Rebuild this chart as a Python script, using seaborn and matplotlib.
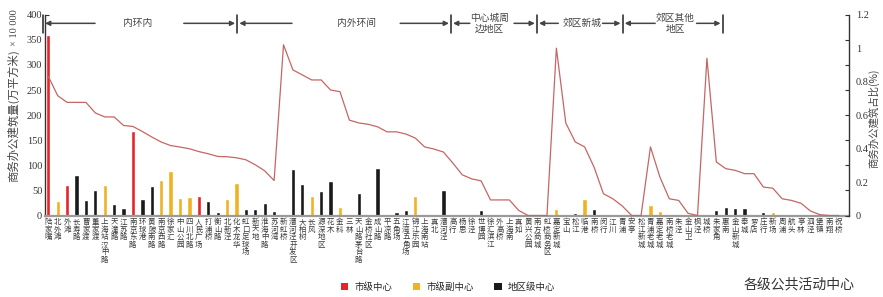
import numpy as np
import pandas as pd
import matplotlib
matplotlib.use('Agg')
import matplotlib.pyplot as plt
import seaborn as sns
from matplotlib.patches import Patch

# ---------------- data ----------------
centers = [
    "陆家嘴", "北外滩", "外滩", "长寿路", "曹家渡", "董家渡", "上海站汉中路", "天潼路", "江苏路", "南京东路",
    "环球港", "黄陂南路", "南京西路", "徐家汇", "中山公园", "四川北路", "人民广场", "打浦桥", "衡山路", "北新泾",
    "化木龙华", "虹口足球场", "新天地", "淮海中路", "苏河湾", "新虹桥", "漕河泾开发区", "大柏树", "长风", "源深地区",
    "花木", "金科", "三林", "天山路茅台路", "金桥社区", "成山路", "平凉路", "五角场", "江湾五角场", "锦江乐园",
    "上海南站", "真北", "漕河泾", "高行", "杨思", "徐泾", "世博园", "徐汇滨江", "外高桥", "上海南",
    "真如", "黄兴公园", "南方商城", "虹桥商务区", "嘉定新城", "宝山", "松江", "临港", "南桥", "闵行",
    "江川", "青浦", "安亭", "松江新城", "青浦老城", "嘉定老城", "南桥老城", "朱泾", "金山卫", "枫泾",
    "城桥", "朱家角", "惠南", "金山新城", "奉城", "罗店", "庄行", "新场", "周浦", "航头",
    "亭林", "泗泾", "堡镇", "南翔", "祝桥",
]
levels_code = (
    "RYRBBBYBBRBBYYYYRBBYY" "BBBBBB" "BYBBY" "BBBBBBB" "Y" "BBBBBBBB" "Y" "BBBBB" "Y" "BB" "Y" "B"
    "BBBBB" "YYYY" "BB" "BBBBBBB" "Y" "BBBBBBB"
)
office = [
    360, 28, 61, 81, 31, 51, 61, 23, 15, 169,
    33, 59, 71, 89, 35, 37, 39, 29, 7, 33,
    65, 13, 13, 25, 9, 1, 93, 63, 39, 49,
    69, 17, 1, 45, 3, 95, 1, 7, 11, 39,
    3, 2, 51, 1, 1, 1, 11, 3, 3, 0,
    0, 0, 0, 0, 13, 3, 5, 33, 13, 0,
    3, 1, 0, 0, 21, 9, 3, 3, 0, 0,
    3, 11, 17, 15, 15, 3, 7, 7, 0, 3,
    1, 0, 0, 0, 0,
]
share = [
    0.832, 0.716, 0.676, 0.676, 0.676, 0.613, 0.589, 0.589, 0.538, 0.532,
    0.502, 0.469, 0.439, 0.418, 0.409, 0.399, 0.382, 0.369, 0.353, 0.351,
    0.345, 0.333, 0.303, 0.267, 0.209, 1.02, 0.87, 0.84, 0.81, 0.81,
    0.75, 0.74, 0.57, 0.553, 0.545, 0.53, 0.50, 0.50, 0.487, 0.463,
    0.41, 0.397, 0.379, 0.313, 0.243, 0.219, 0.207, 0.093, 0.093, 0.093,
    0.03, 0.0, 0.0, 0.0, 1.0, 0.553, 0.44, 0.41, 0.29, 0.13,
    0.10, 0.057, 0.0, 0.0, 0.41, 0.23, 0.10, 0.09, 0.013, 0.0,
    0.94, 0.32, 0.28, 0.27, 0.25, 0.25, 0.17, 0.163, 0.10, 0.09,
    0.073, 0.027, 0.005, 0.0, 0.0,
]
level_names = {"R": "市级中心", "Y": "市级副中心", "B": "地区级中心"}
levels = [level_names[c] for c in levels_code]
sections = ["内环内", "内外环间", "中心城周\n边地区", "郊区新城", "郊区其他\n地区"]
yticks_left = [0, 50, 100, 150, 200, 250, 300, 350, 400]
yticks_right = [0, 0.2, 0.4, 0.6, 0.8, 1, 1.2]

N = len(centers)
palette = {"市级中心": "#e52329", "市级副中心": "#f0b123", "地区级中心": "#1a1a1a"}
line_color = "#c46664"

# ---------------- style ----------------
sns.set_theme(style="white")
plt.rcParams["font.family"] = ["Noto Sans CJK SC", "DejaVu Sans"]
serif = ["Liberation Serif", "DejaVu Serif"]

fig = plt.figure(figsize=(8.83, 2.97), dpi=100)
ax = fig.add_axes([45 / 883, 1 - 215.5 / 297, (849 - 45) / 883, (215.5 - 14.7) / 297])

df = pd.DataFrame({"center": centers, "level": levels, "office": office})
sns.barplot(data=df, x="center", y="office", hue="level", order=centers,
            hue_order=["市级中心", "市级副中心", "地区级中心"], palette=palette,
            dodge=False, width=0.45, ax=ax, legend=False, saturation=1)

ax2 = ax.twinx()
sns.lineplot(x=np.arange(N), y=share, ax=ax2, color=line_color, lw=0.9)

xlim = (-0.35, 85.1)
ax.set_xlim(*xlim)
ax2.set_xlim(*xlim)
ax.set_ylim(0, 400)
ax2.set_ylim(0, 1.2)

for a in (ax, ax2):
    for s in a.spines.values():
        s.set_visible(False)
ax.spines["left"].set_visible(True)
ax.spines["left"].set_color("#333333")
ax.spines["left"].set_linewidth(1.0)
ax.spines["bottom"].set_visible(True)
ax.spines["bottom"].set_color("#9a9a9a")
ax.spines["bottom"].set_linewidth(1.6)
ax2.spines["right"].set_visible(True)
ax2.spines["right"].set_color("#333333")
ax2.spines["right"].set_linewidth(1.0)

ax.set_yticks(yticks_left)
ax.set_yticklabels([str(v) for v in yticks_left], fontsize=7.5, family=serif, color="#333333")
ax.tick_params(axis="y", direction="in", length=3, width=0.8, color="#333333", pad=2)

# right axis: labels at 0.2 steps, tick marks aligned with the left axis grid
ax2.yaxis.remove_overlapping_locs = False
ax2.set_yticks(yticks_right)
ax2.set_yticklabels([("%g" % v) for v in yticks_right], fontsize=7.5,
                    family=serif, color="#333333")
ax2.set_yticks(np.arange(0, 1.21, 0.15), minor=True)
ax2.tick_params(axis="y", which="major", length=0, pad=5)
ax2.tick_params(axis="y", which="minor", direction="in", length=3, width=0.8, color="#333333")

ax.set_xticks(range(N))
ax.set_xticklabels(["\n".join(c) for c in centers], rotation=0, fontsize=5.4,
                   va="top", linespacing=0.92, color="#3a3a3a")
ax.tick_params(axis="x", length=0, pad=2)
ax.set_xlabel("")
ax.set_ylabel("")
ax2.set_ylabel("")

# section annotations
seps = [-0.56, 20.08, 42.8, 51.93, 61.04, 71.67]
text_x = [9.53, 32.8, 46.9, 56.7, 66.6]
tails = [(4.97, 14.4), (25.9, 37.4), (44.8, 49.5), (54.2, 58.9), (64.5, 68.9)]
ya = 0.957
for sx in seps:
    ax.plot([sx, sx], [0.911, 1.0], transform=ax.get_xaxis_transform(), color="#222222",
            lw=1.1, clip_on=False)
arrow_kw = dict(arrowstyle="-|>", color="#444444", lw=1.1, mutation_scale=7,
                shrinkA=0, shrinkB=0)
for i, name in enumerate(sections):
    lt, rt = tails[i]
    ax.annotate("", xy=(seps[i] + 0.22, ya), xytext=(lt, ya),
                xycoords=ax.get_xaxis_transform(), textcoords=ax.get_xaxis_transform(),
                arrowprops=arrow_kw, annotation_clip=False)
    ax.annotate("", xy=(seps[i + 1] - 0.22, ya), xytext=(rt, ya),
                xycoords=ax.get_xaxis_transform(), textcoords=ax.get_xaxis_transform(),
                arrowprops=arrow_kw, annotation_clip=False)
    ax.text(text_x[i], ya, name, transform=ax.get_xaxis_transform(), ha="center",
            va="center", fontsize=7, color="#444444", linespacing=1.1)

# axis titles
fig.text(13 / 883, 1 - 116 / 297, "商务办公建筑量(万平方米)", rotation=90, ha="center",
         va="center", fontsize=8.2, color="#444444")
fig.text(15 / 883, 1 - 28 / 297, "× 10 000", rotation=90, ha="center", va="center",
         fontsize=7.5, color="#444444", family=serif)
fig.text(874 / 883, 1 - 118 / 297, "商务办公建筑占比(%)", rotation=90, ha="center",
         va="center", fontsize=7.5, color="#444444")
fig.text(799 / 883, 1 - 284 / 297, "各级公共活动中心", ha="center", va="center",
         fontsize=10, color="#333333")

handles = [Patch(facecolor=palette[k], edgecolor="none") for k in ["市级中心", "市级副中心", "地区级中心"]]
fig.legend(handles, ["市级中心", "市级副中心", "地区级中心"], loc="center",
           bbox_to_anchor=(448 / 883, 1 - 287 / 297), ncol=3, frameon=False, fontsize=6.8,
           handlelength=0.8, handleheight=0.8, handletextpad=0.6, columnspacing=2.2)

fig.savefig("out.png", dpi=100)
